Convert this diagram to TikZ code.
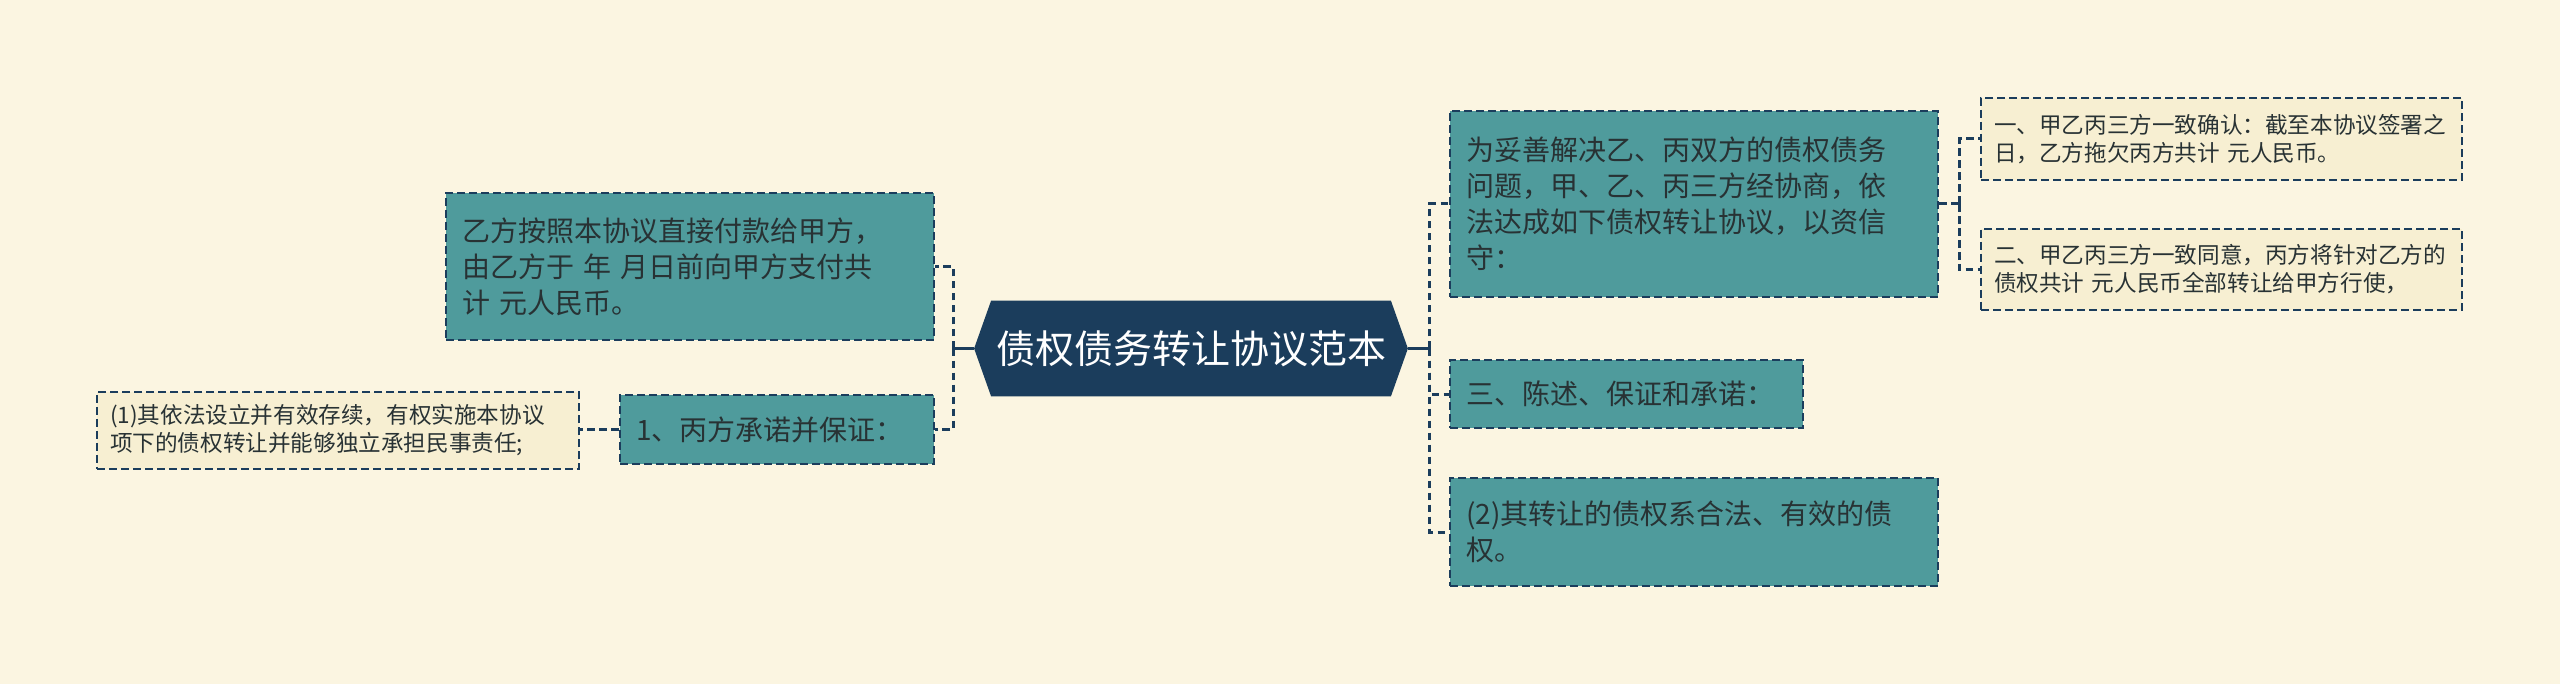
\documentclass[tikz,border=0pt]{standalone}
\usepackage{fontspec}
\setmainfont{Noto Sans CJK SC}
\usetikzlibrary{backgrounds}

\definecolor{bgcream}{RGB}{251,245,225}
\definecolor{navy}{RGB}{27,61,92}
\definecolor{boxteal}{RGB}{79,155,156}
\definecolor{leafcream}{RGB}{247,239,210}
\definecolor{inktext}{RGB}{40,50,52}

\tikzset{
  topic/.style={draw=navy, line width=1.2pt, dash pattern=on 3.8pt off 2.2pt,
    fill=boxteal, text=inktext, align=left, inner xsep=8pt, inner ysep=0pt,
    font=\fontsize{14}{18}\selectfont},
  leaf/.style={draw=navy, line width=1.2pt, dash pattern=on 3.8pt off 2.2pt,
    fill=leafcream, text=inktext, align=left, inner xsep=6.5pt, inner ysep=0pt,
    font=\fontsize{11.3}{14}\selectfont},
  link/.style={navy, line width=1.5pt, dash pattern=on 3.8pt off 2.2pt},
}

\begin{document}
\begin{tikzpicture}[x=0.5pt, y=-0.5pt]
                \useasboundingbox (0, 0) rectangle (2560, 684);
                % Centre
                \node (title) [minimum width=216.5pt, minimum height=47.5pt, inner sep=0pt, text=white,
                    font=\fontsize{19.5}{24}\selectfont] at (1191, 348.5) {债权债务转让协议范本};
                \begin{pgfonlayer}{background}
                \fill [bgcream] (0, 0) rectangle (2560, 684);
                \fill [navy] (title.west) -- ([xshift=8.5pt]title.north west) -- ([xshift=-8.5pt]title.north east)
                    -- (title.east) -- ([xshift=-8.5pt]title.south east) -- ([xshift=8.5pt]title.south west) -- cycle;
                \end{pgfonlayer}
                % Left branch
                \node (pay) [topic, text width=228pt, minimum height=73.5pt] at (690, 266.5)
                    {乙方按照本协议直接付款给甲方，\\由乙方于 年 月日前向甲方支付共\\计 元人民币。};
                \node (promise) [topic, text width=141pt, minimum height=34.5pt] at (777, 429.5)
                    {1、丙方承诺并保证：};
                \node (valid) [leaf, text width=228pt, minimum height=38.5pt] at (338, 430.5)
                    {(1)其依法设立并有效存续，有权实施本协议\\项下的债权转让并能够独立承担民事责任;};
                % Right branch
                \node (intro) [topic, text width=228pt, minimum height=93pt] at (1694, 204)
                    {为妥善解决乙、丙双方的债权债务\\问题，甲、乙、丙三方经协商，依\\法达成如下债权转让协议，以资信\\守：};
                \node (state) [topic, text width=160.5pt, minimum height=34pt] at (1626.5, 394)
                    {三、陈述、保证和承诺：};
                \node (legal) [topic, text width=228pt, minimum height=54pt] at (1694, 532)
                    {(2)其转让的债权系合法、有效的债\\权。};
                \node (confirm) [leaf, text width=227.5pt, minimum height=41pt] at (2221.5, 139)
                    {一、甲乙丙三方一致确认：截至本协议签署之\\日，乙方拖欠丙方共计 元人民币。};
                \node (agree) [leaf, text width=227.5pt, minimum height=40.5pt] at (2221.5, 269.5)
                    {二、甲乙丙三方一致同意，丙方将针对乙方的\\债权共计 元人民币全部转让给甲方行使，};
                % Connectors
                \coordinate (ljoin) at (953, 348.5);
                \coordinate (rjoin) at (1429, 348.5);
                \coordinate (ijoin) at (1959, 204);
                \draw [navy, line width=1.5pt] (title.west) -- (ljoin);
                \draw [navy, line width=1.5pt] (title.east) -- (rjoin);
                \draw [link] (ljoin) |- (pay.east);
                \draw [link] (ljoin) |- (promise.east);
                \draw [link] (promise.west) -- (valid.east |- promise.west);
                \draw [link] (rjoin) |- (intro.west);
                \draw [link] (rjoin) |- (state.west);
                \draw [link] (rjoin) |- (legal.west);
                \draw [link] (intro.east) -- (ijoin);
                \draw [link] (ijoin) |- (confirm.west);
                \draw [link] (ijoin) |- (agree.west);
            \end{tikzpicture}
\end{document}
